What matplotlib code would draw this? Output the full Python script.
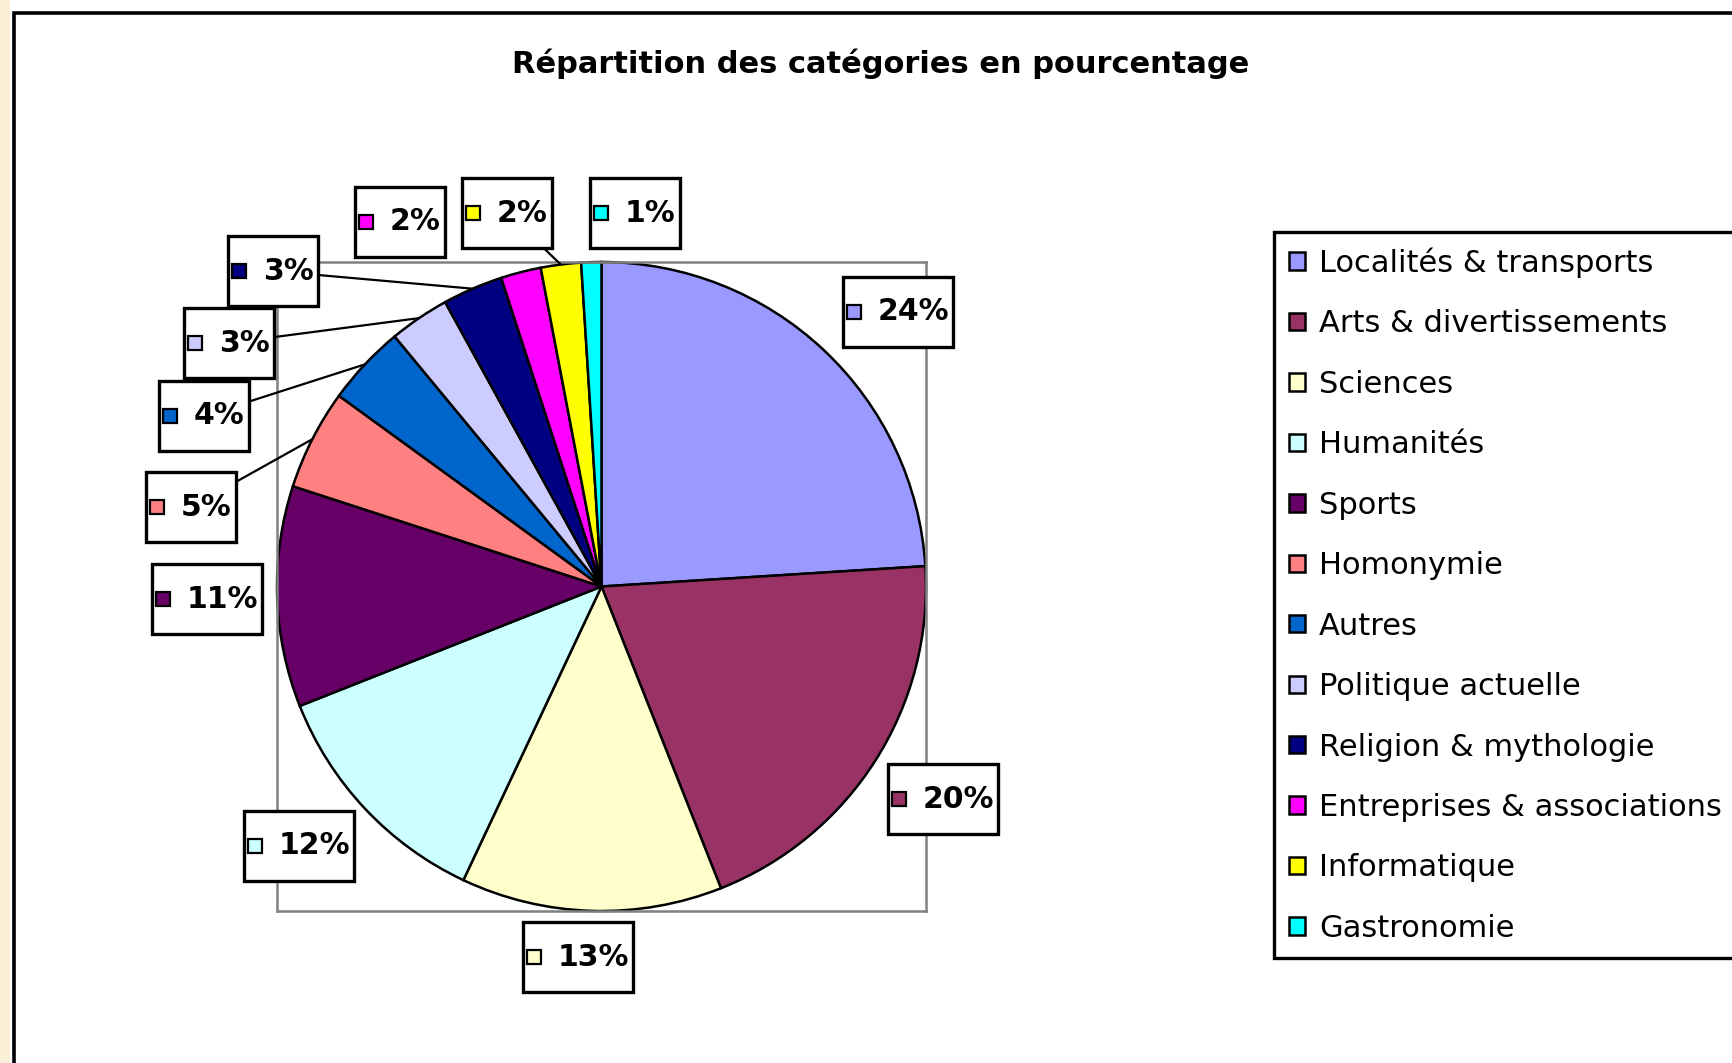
import numpy as np
import matplotlib
matplotlib.use("Agg")
import matplotlib.pyplot as plt
from matplotlib.patches import Rectangle
from matplotlib.offsetbox import AnnotationBbox, DrawingArea, TextArea, HPacker

categories = ["Localités & transports", "Arts & divertissements", "Sciences",
              "Humanités", "Sports", "Homonymie", "Autres", "Politique actuelle",
              "Religion & mythologie", "Entreprises & associations",
              "Informatique", "Gastronomie"]
pourcentages = [24, 20, 13, 12, 11, 5, 4, 3, 3, 2, 2, 1]
couleurs = ["#9999ff", "#993366", "#ffffcc", "#ccffff", "#660066", "#ff8080",
            "#0066cc", "#ccccff", "#000080", "#ff00ff", "#ffff00", "#00ffff"]
titre = "Répartition des catégories en pourcentage"

W, H = 1733, 1063

# label box centres (pixels from top-left) and whether a leader line is drawn
label_pos = [(898, 312), (943, 799), (578, 957), (299, 846), (207, 599),
             (191, 507), (204, 416), (229, 343), (273, 271), (400, 222),
             (507, 213), (635, 213)]
leaders = [False, False, False, False, False, True, True, True, True, False,
           True, False]

fig = plt.figure(figsize=(W / 100, H / 100), dpi=100)
fig.patch.set_facecolor("white")

# beige strip on the left + chart area border (runs off right/bottom)
fig.add_artist(Rectangle((0, 0), 10 / W, 1, transform=fig.transFigure,
                         fc="#fbefd8", ec="none"))
fig.add_artist(Rectangle((14 / W, -0.1), 1.2, 1.1 - 13 / H,
                         transform=fig.transFigure, fc="none", ec="black",
                         lw=2.6))

fig.text(881 / W, 1 - 64 / H, titre, ha="center", va="center",
         fontsize=22, fontweight="bold")

# pie plot area (grey square around the pie)
ax = fig.add_axes([277 / W, 1 - 911 / H, 649 / W, 649 / H])
wedges, _ = ax.pie(pourcentages, colors=couleurs, startangle=90,
                   counterclock=False, radius=1, frame=True,
                   wedgeprops=dict(edgecolor="black", linewidth=1.8))
ax.set_xlim(-1, 1)
ax.set_ylim(-1, 1)
ax.set_xticks([])
ax.set_yticks([])
for sp in ax.spines.values():
    sp.set_color("#808080")
    sp.set_linewidth(1.8)

for w, val, col, (bx, by), lead in zip(wedges, pourcentages, couleurs,
                                        label_pos, leaders):
    theta = np.deg2rad((w.theta1 + w.theta2) / 2)
    anchor = (np.cos(theta), np.sin(theta))
    da = DrawingArea(10, 44, 0, 0)
    da.add_artist(Rectangle((0, (44 - 10) / 2), 10, 10, fc=col,
                            ec="black", lw=1.6))
    ta = TextArea(f"{val}%", textprops=dict(fontsize=21.5, fontweight="bold"))
    pack = HPacker(children=[da, ta], align="center", pad=0, sep=12)
    arrow = None
    if lead:
        arrow = dict(arrowstyle="-", color="black", lw=1.6,
                     shrinkA=0, shrinkB=0)
    ab = AnnotationBbox(pack, anchor, xybox=(bx, H - by), xycoords="data",
                        boxcoords="figure pixels", frameon=True, pad=0.9,
                        bboxprops=dict(boxstyle="square", ec="black", lw=2.4,
                                       fc="white"),
                        arrowprops=arrow)
    ax.add_artist(ab)

leg = fig.legend(wedges, categories, loc="upper left",
                 bbox_to_anchor=(1274 / W, 1 - 232 / H), fontsize=22,
                 frameon=True, fancybox=False, edgecolor="black",
                 framealpha=1, borderpad=0.5, labelspacing=1.03,
                 handlelength=0.5, handleheight=0.5, handletextpad=0.48,
                 borderaxespad=0)
leg.get_frame().set_linewidth(2.4)

fig.savefig("out.png", dpi=100)
